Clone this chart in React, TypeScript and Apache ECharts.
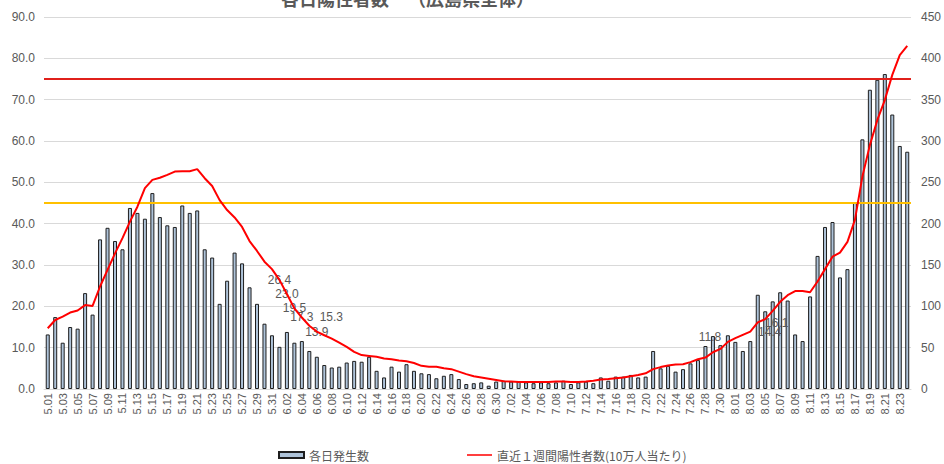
import React, { useEffect, useRef } from "react";
import * as echarts from "echarts";

const categories = [
  "5.01","5.02","5.03","5.04","5.05","5.06","5.07","5.08","5.09","5.10",
  "5.11","5.12","5.13","5.14","5.15","5.16","5.17","5.18","5.19","5.20",
  "5.21","5.22","5.23","5.24","5.25","5.26","5.27","5.28","5.29","5.30","5.31",
  "6.01","6.02","6.03","6.04","6.05","6.06","6.07","6.08","6.09","6.10",
  "6.11","6.12","6.13","6.14","6.15","6.16","6.17","6.18","6.19","6.20",
  "6.21","6.22","6.23","6.24","6.25","6.26","6.27","6.28","6.29","6.30",
  "7.01","7.02","7.03","7.04","7.05","7.06","7.07","7.08","7.09","7.10",
  "7.11","7.12","7.13","7.14","7.15","7.16","7.17","7.18","7.19","7.20",
  "7.21","7.22","7.23","7.24","7.25","7.26","7.27","7.28","7.29","7.30","7.31",
  "8.01","8.02","8.03","8.04","8.05","8.06","8.07","8.08","8.09","8.10",
  "8.11","8.12","8.13","8.14","8.15","8.16","8.17","8.18","8.19","8.20",
  "8.21","8.22","8.23","8.24",
];

// 各日発生数 (right axis)
const dailyCases = [
  66, 87, 56, 75, 73, 116, 90, 181, 195, 179,
  169, 219, 213, 206, 237, 208, 198, 196, 222, 213,
  216, 169, 159, 103, 131, 165, 152, 123, 103, 79, 65,
  51, 69, 56, 58, 46, 39, 29, 26, 27, 32,
  34, 33, 39, 22, 14, 27, 21, 30, 22, 19,
  18, 13, 16, 18, 12, 6, 7, 8, 4, 9,
  10, 9, 9, 8, 7, 8, 7, 8, 10, 6,
  8, 9, 7, 14, 10, 15, 15, 17, 14, 15,
  46, 25, 28, 21, 24, 31, 35, 52, 64, 53, 65,
  57, 46, 58, 114, 94, 106, 117, 107, 66, 58,
  112, 161, 196, 202, 135, 145, 226, 302, 362, 374,
  381, 332, 294, 287,
];

// 直近１週間陽性者数(10万人当たり) (left axis)
const weeklyPer100k = [
  14.7, 16.7, 17.5, 18.5, 19.0, 20.3, 20.1, 24.8, 28.8, 32.8,
  36.5, 40.5, 44.1, 48.6, 50.6, 51.1, 51.8, 52.6, 52.7, 52.7,
  53.2, 51.0, 49.1, 45.7, 43.3, 41.5, 39.2, 35.8, 33.4, 30.8, 29.0,
  26.4, 23.0, 19.5, 17.3, 15.3, 13.9, 13.0, 12.2, 11.2, 10.2,
  9.0, 8.2, 8.0, 7.8, 7.4, 7.2, 6.9, 6.7, 6.3, 5.6,
  5.4, 5.4, 5.0, 4.8, 4.2, 3.6, 3.1, 2.8, 2.5, 2.2,
  1.9, 1.8, 1.7, 1.7, 1.7, 1.7, 1.7, 1.8, 1.8, 1.7,
  1.7, 1.8, 2.0, 2.3, 2.4, 2.6, 2.8, 3.1, 3.4, 3.8,
  4.8, 5.3, 5.7, 5.9, 6.0, 6.5, 7.2, 7.6, 8.9, 9.7, 11.4,
  12.3, 13.1, 13.9, 16.1, 16.9, 18.9, 21.1, 22.7, 23.7, 23.7,
  23.4, 26.0, 29.0, 32.0, 33.0, 35.6, 40.9, 51.4, 59.0, 65.1,
  69.9, 76.0, 80.8, 83.0,
];

// labelled points on the line
const labelledDays = ["6.01", "6.02", "6.03", "6.04", "6.05", "6.06"];
const labelOffsets = [[0, 0], [0, 0], [0, 0], [0, 0], [22, -9], [0, 0]];

// stray labels (left-axis level)
const noteDays = ["7.29", "8.06", "8.06"];
const noteLevels = [12.5, 16.0, 13.9];
const noteTexts = ["11.8", "16.1", "14.4"];
const noteOffsets = [[-3, 0], [4, 0], [-3, 0]];

const thresholds = [75, 45];
const thresholdColors = ["#e0201b", "#ffc000"];

const leftTicks = { min: 0, max: 90, interval: 10 };
const rightTicks = { min: 0, max: 450, interval: 50 };

const barName = "各日発生数";
const lineName = "直近１週間陽性者数(10万人当たり)";
const titleMain = "各日陽性者数";
const titleSub = "（広島県全体）";

const GRAY = "#595959";
const NUM_FONT = "'Liberation Sans', Arial, sans-serif";
const JP_FONT = "'Noto Sans CJK JP', sans-serif";

const LINE_ICON =
  "path://M0,0L0.01,0L0,0.01Z M0,2.2L25,2.2L25,3.8L0,3.8Z M25,6L24.99,6L25,5.99Z";

export default function App() {
  const ref = useRef<HTMLDivElement>(null);

  useEffect(() => {
    if (!ref.current) return;
    const chart = echarts.init(ref.current, undefined, { renderer: "svg" });

    const labelStyle = {
      show: true,
      position: "inside",
      color: GRAY,
      fontSize: 12,
      fontFamily: NUM_FONT,
    };

    const lineLabels = labelledDays.map((d, k) => {
      const idx = categories.indexOf(d);
      const v = weeklyPer100k[idx];
      return {
        coord: [d, v],
        value: v,
        label: { ...labelStyle, offset: labelOffsets[k], formatter: v.toFixed(1) },
      };
    });

    const notes = noteDays.map((d, i) => ({
      coord: [d, noteLevels[i]],
      value: noteTexts[i],
      label: { ...labelStyle, offset: noteOffsets[i], formatter: noteTexts[i] },
    }));

    const option: any = {
      animation: false,
      grid: { left: 44, right: 32, top: 17, bottom: 75, containLabel: false },
      graphic: [
        {
          type: "text",
          left: 281,
          top: -11,
          style: { text: titleMain, font: `bold 18px ${JP_FONT}`, fill: GRAY },
        },
        {
          type: "text",
          left: 408,
          top: -11,
          style: { text: titleSub, font: `bold 18px ${JP_FONT}`, fill: GRAY },
        },
      ],
      legend: {
        left: 273,
        top: 444,
        itemWidth: 25,
        itemHeight: 6,
        itemGap: 98,
        textStyle: { color: GRAY, fontSize: 12, fontFamily: JP_FONT },
        data: [
          { name: barName, icon: "rect" },
          { name: lineName, icon: LINE_ICON, itemStyle: { color: "#ff0000" } },
        ],
      },
      xAxis: {
        type: "category",
        data: categories,
        boundaryGap: true,
        axisTick: { show: false },
        axisLine: { show: true, lineStyle: { color: "#d9d9d9" } },
        axisLabel: {
          interval: 1,
          rotate: 90,
          color: GRAY,
          fontSize: 11,
          fontFamily: NUM_FONT,
          margin: 4,
        },
      },
      yAxis: [
        {
          type: "value",
          min: leftTicks.min,
          max: leftTicks.max,
          interval: leftTicks.interval,
          axisLine: { show: false },
          axisTick: { show: false },
          splitLine: { lineStyle: { color: "#d9d9d9", width: 1 } },
          axisLabel: {
            color: GRAY,
            fontSize: 12,
            fontFamily: NUM_FONT,
            margin: 9,
            formatter: (v: number) => v.toFixed(1),
          },
        },
        {
          type: "value",
          min: rightTicks.min,
          max: rightTicks.max,
          interval: rightTicks.interval,
          axisLine: { show: false },
          axisTick: { show: false },
          splitLine: { show: false },
          axisLabel: {
            color: GRAY,
            fontSize: 12,
            fontFamily: NUM_FONT,
            margin: 10,
          },
        },
      ],
      series: [
        {
          name: barName,
          type: "bar",
          yAxisIndex: 1,
          data: dailyCases,
          barWidth: 4,
          itemStyle: {
            color: "#aec3d9",
            borderColor: "#1e1e1e",
            borderWidth: 1,
          },
        },
        {
          name: lineName,
          type: "line",
          yAxisIndex: 0,
          data: weeklyPer100k,
          symbol: "none",
          showSymbol: false,
          lineStyle: { color: "#ff0000", width: 2 },
          itemStyle: { color: "#ff0000" },
          z: 5,
          markPoint: {
            symbol: "circle",
            symbolSize: 1,
            itemStyle: { color: "rgba(0,0,0,0)" },
            data: [...lineLabels, ...notes],
          },
          markLine: {
            silent: true,
            symbol: ["none", "none"],
            label: { show: false },
            data: thresholds.map((t, i) => ({
              yAxis: t,
              lineStyle: { color: thresholdColors[i], width: 2, type: "solid" },
            })),
          },
        },
      ],
    };

    chart.setOption(option);
    return () => chart.dispose();
  }, []);

  return (
    <div
      ref={ref}
      style={{ position: "absolute", left: 0, top: 0, width: 944, height: 464 }}
    />
  );
}
